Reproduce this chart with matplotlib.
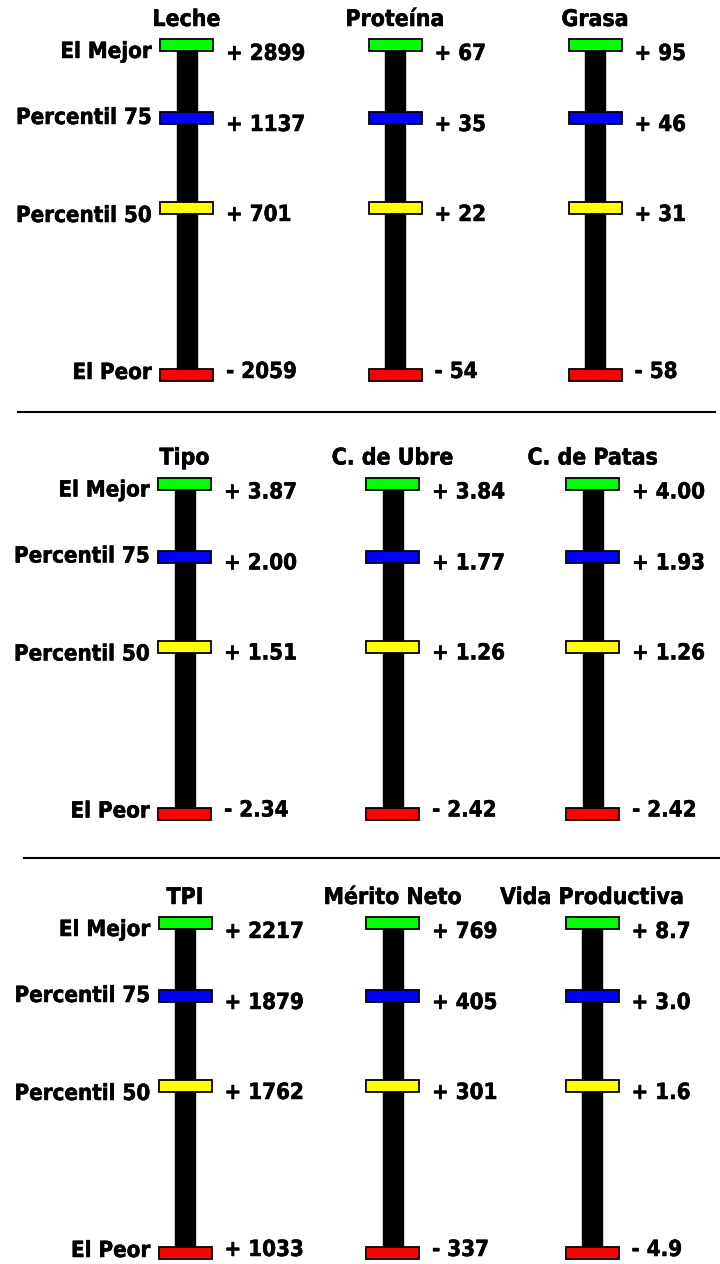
import numpy as np
import matplotlib
matplotlib.use('Agg')
import matplotlib.pyplot as plt
import matplotlib.patheffects as pe
from matplotlib.patches import Rectangle

# datos de cada indicador: mejor, percentil 75, percentil 50, peor
titulos = ["Leche", "Proteína", "Grasa",
           "Tipo", "C. de Ubre", "C. de Patas",
           "TPI", "Mérito Neto", "Vida Productiva"]
mejor = [2899, 67, 95, 3.87, 3.84, 4.00, 2217, 769, 8.7]
p75 = [1137, 35, 46, 2.00, 1.77, 1.93, 1879, 405, 3.0]
p50 = [701, 22, 31, 1.51, 1.26, 1.26, 1762, 301, 1.6]
peor = [-2059, -54, -58, -2.34, -2.42, -2.42, 1033, -337, -4.9]
decimales = [0, 0, 0, 2, 2, 2, 0, 0, 1]
etiquetas = ["El Mejor", "Percentil 75", "Percentil 50", "El Peor"]
colores = ["#00ff00", "#0000ff", "#ffff00", "#ff0000"]

# posicion (pixeles) de cada panel y columna
x_col = [[186.5, 395, 595], [184.5, 392.5, 592.5], [185, 392.5, 592]]
y_panel = [45, 483.5, 923]        # centro del rectangulo verde
dy = [0, 73, 163, 330]            # distancia de cada marca a la verde
off_val = [15, 13, 13, 3]         # linea base de los valores
off_lab = [13, 6, 14, 4]          # linea base de las etiquetas
separadores = [(412, 18, 715), (858, 24, 720)]

fig = plt.figure(figsize=(7.2, 12.64), dpi=100)
ax = fig.add_axes([0, 0, 1, 1])
ax.set_xlim(0, 720)
ax.set_ylim(1264, 0)
ax.axis('off')

fuente = dict(family=['DejaVu Sans'], fontweight='bold', fontsize=16, fontstretch='condensed',
              path_effects=[pe.withStroke(linewidth=0.35, foreground='black')])


def texto_valor(v, d):
    signo = '+' if v >= 0 else '-'
    return f"{signo} {abs(v):.{d}f}"


for k in range(9):
    fila, col = divmod(k, 3)
    xc = x_col[fila][col]
    y0 = y_panel[fila]
    ys = [y0 + d for d in dy]
    # barra negra
    ax.add_patch(Rectangle((xc - 10, ys[0]), 20, ys[3] - ys[0], color='black', zorder=1))
    vals = [mejor[k], p75[k], p50[k], peor[k]]
    for j in range(4):
        ax.add_patch(Rectangle((xc - 26.5, ys[j] - 6), 53, 12, facecolor=colores[j],
                               edgecolor='black', lw=1.3, zorder=2))
        ax.text(xc + 39.5, ys[j] + off_val[j], texto_valor(vals[j], decimales[k]),
                ha='left', va='baseline', **fuente)
        if col == 0:
            ax.text(xc - 34.5, ys[j] + off_lab[j], etiquetas[j],
                    ha='right', va='baseline', **fuente)
    ax.text(xc, y0 - 19, titulos[k], ha='center', va='baseline', **{**fuente, 'fontsize': 16.5})

for y, x1, x2 in separadores:
    ax.plot([x1, x2], [y, y], color='black', lw=1.5)

plt.savefig("out.png", dpi=100)
plt.close()
